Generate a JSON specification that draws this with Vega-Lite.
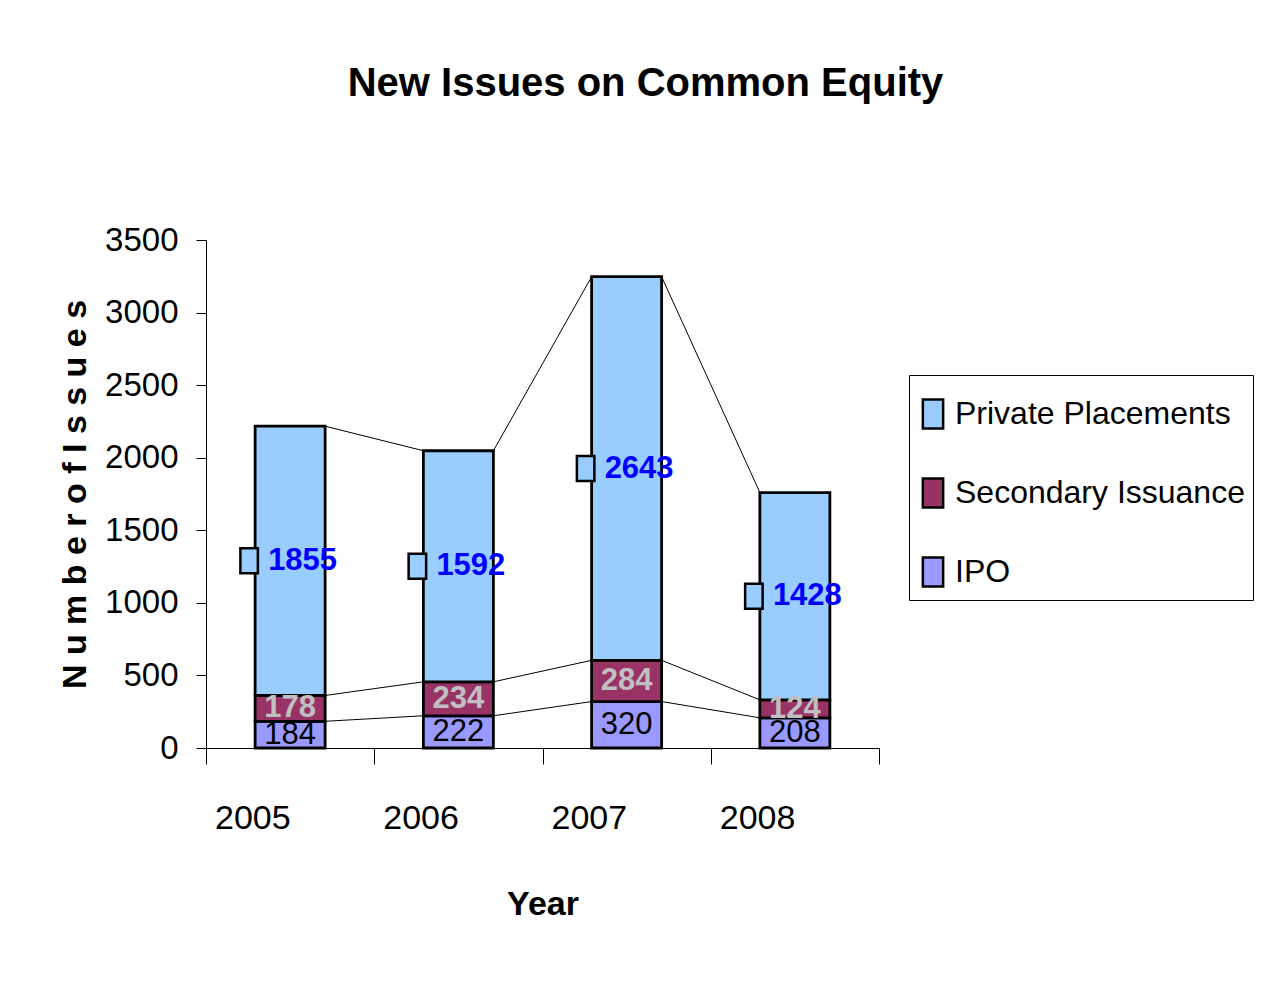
{
  "$schema": "https://vega.github.io/schema/vega-lite/v6.json",
  "autosize": "none",
  "width": 673,
  "height": 508,
  "padding": {"left": 206, "top": 240, "right": 383, "bottom": 244},
  "background": "white",
  "config": {
    "font": "Liberation Sans",
    "view": {"stroke": null},
    "axis": {"grid": false, "domainColor": "black", "tickColor": "black", "labelColor": "black", "titleColor": "black", "labelFont": "Liberation Sans", "titleFont": "Liberation Sans"}
  },
  "title": {
    "text": "New Issues on Common Equity",
    "font": "Liberation Sans",
    "fontSize": 40,
    "fontWeight": "bold",
    "color": "black",
    "anchor": "middle",
    "dx": 103,
    "offset": 120
  },
  "datasets": {
    "bars": [
      {"year": "2005", "series": "IPO", "order": 1, "value": 184},
      {"year": "2005", "series": "Secondary Issuance", "order": 2, "value": 178},
      {"year": "2005", "series": "Private Placements", "order": 3, "value": 1855},
      {"year": "2006", "series": "IPO", "order": 1, "value": 222},
      {"year": "2006", "series": "Secondary Issuance", "order": 2, "value": 234},
      {"year": "2006", "series": "Private Placements", "order": 3, "value": 1592},
      {"year": "2007", "series": "IPO", "order": 1, "value": 320},
      {"year": "2007", "series": "Secondary Issuance", "order": 2, "value": 284},
      {"year": "2007", "series": "Private Placements", "order": 3, "value": 2643},
      {"year": "2008", "series": "IPO", "order": 1, "value": 208},
      {"year": "2008", "series": "Secondary Issuance", "order": 2, "value": 124},
      {"year": "2008", "series": "Private Placements", "order": 3, "value": 1428}
    ],
    "serieslines": [
      {"from": "2005", "to": "2006", "start": 184, "end": 222},
      {"from": "2006", "to": "2007", "start": 222, "end": 320},
      {"from": "2007", "to": "2008", "start": 320, "end": 208},
      {"from": "2005", "to": "2006", "start": 362, "end": 456},
      {"from": "2006", "to": "2007", "start": 456, "end": 604},
      {"from": "2007", "to": "2008", "start": 604, "end": 332},
      {"from": "2005", "to": "2006", "start": 2217, "end": 2048},
      {"from": "2006", "to": "2007", "start": 2048, "end": 3247},
      {"from": "2007", "to": "2008", "start": 3247, "end": 1760}
    ]
  },
  "layer": [
    {
      "data": {"name": "serieslines"},
      "mark": {"type": "rule", "color": "black", "strokeWidth": 1, "xOffset": 35, "x2Offset": -35},
      "encoding": {
        "x": {"field": "from", "type": "nominal", "bandPosition": 0.5},
        "x2": {"field": "to", "bandPosition": 0.5},
        "y": {"field": "start", "type": "quantitative"},
        "y2": {"field": "end"}
      }
    },
    {
      "data": {"name": "bars"},
      "mark": {"type": "bar", "stroke": "black", "strokeWidth": 2.8, "width": {"band": 0.416}},
      "encoding": {
        "x": {
          "field": "year", "type": "nominal",
          "scale": {"paddingInner": 0, "paddingOuter": 0},
          "axis": {"title": "Year", "labelAngle": 0, "labelFontSize": 34, "labelPadding": 54, "tickSize": 16, "tickBand": "extent", "titleFontSize": 34, "titleFontWeight": "bold", "titlePadding": 52}
        },
        "y": {
          "field": "value", "type": "quantitative", "stack": "zero",
          "scale": {"domain": [0, 3500]},
          "axis": {"title": "N u m b e r  o f  I s s u e s", "format": "d", "values": [0, 500, 1000, 1500, 2000, 2500, 3000, 3500], "labelFontSize": 33, "labelPadding": 18, "tickSize": 10, "titleFontSize": 34, "titleFontWeight": "bold", "titlePadding": 12}
        },
        "order": {"field": "order", "type": "quantitative"},
        "color": {
          "field": "series", "type": "nominal",
          "scale": {"domain": ["Private Placements", "Secondary Issuance", "IPO"], "range": ["#99CCFF", "#993366", "#9999FF"]},
          "legend": {
            "title": " ", "titleFontSize": 4, "titlePadding": 11, "orient": "none", "legendX": 703, "legendY": 135,
            "strokeColor": "black", "padding": 8,
            "labelFontSize": 32, "labelFont": "Liberation Sans", "labelColor": "black", "labelLimit": 400,
            "symbolType": "M-0.7,-1L0.7,-1L0.7,1L-0.7,1Z", "symbolSize": 841, "symbolStrokeColor": "black", "symbolStrokeWidth": 2.5, "symbolOpacity": 1,
            "rowPadding": 39, "labelOffset": 6
          }
        }
      }
    },
    {
      "data": {"name": "bars"},
      "mark": {"type": "point", "shape": "M-0.7,-1L0.7,-1L0.7,1L-0.7,1Z", "size": 625, "filled": true, "fill": "#99CCFF", "stroke": "black", "strokeWidth": 2.5, "xOffset": -41},
      "encoding": {
        "x": {"field": "year", "type": "nominal"},
        "y": {"field": "value", "type": "quantitative", "stack": "zero", "bandPosition": 0.5},
        "order": {"field": "order", "type": "quantitative"},
        "opacity": {"condition": {"test": "datum.series === 'Private Placements'", "value": 1}, "value": 0}
      }
    },
    {
      "data": {"name": "bars"},
      "mark": {"type": "text", "fontWeight": "bold", "fontSize": 31, "font": "Liberation Sans", "align": "left", "dx": -22, "fill": "#0000FF"},
      "encoding": {
        "x": {"field": "year", "type": "nominal"},
        "y": {"field": "value", "type": "quantitative", "stack": "zero", "bandPosition": 0.5},
        "order": {"field": "order", "type": "quantitative"},
        "text": {"field": "value", "type": "quantitative"},
        "opacity": {"condition": {"test": "datum.series === 'Private Placements'", "value": 1}, "value": 0}
      }
    },
    {
      "data": {"name": "bars"},
      "mark": {"type": "text", "fontWeight": "bold", "fontSize": 31, "font": "Liberation Sans", "fill": "#C0C0C0"},
      "encoding": {
        "x": {"field": "year", "type": "nominal"},
        "y": {"field": "value", "type": "quantitative", "stack": "zero", "bandPosition": 0.5},
        "order": {"field": "order", "type": "quantitative"},
        "text": {"field": "value", "type": "quantitative"},
        "opacity": {"condition": {"test": "datum.series === 'Secondary Issuance'", "value": 1}, "value": 0}
      }
    },
    {
      "data": {"name": "bars"},
      "mark": {"type": "text", "fontWeight": "normal", "fontSize": 31, "font": "Liberation Sans", "fill": "#000000"},
      "encoding": {
        "x": {"field": "year", "type": "nominal"},
        "y": {"field": "value", "type": "quantitative", "stack": "zero", "bandPosition": 0.5},
        "order": {"field": "order", "type": "quantitative"},
        "text": {"field": "value", "type": "quantitative"},
        "opacity": {"condition": {"test": "datum.series === 'IPO'", "value": 1}, "value": 0}
      }
    }
  ]
}
